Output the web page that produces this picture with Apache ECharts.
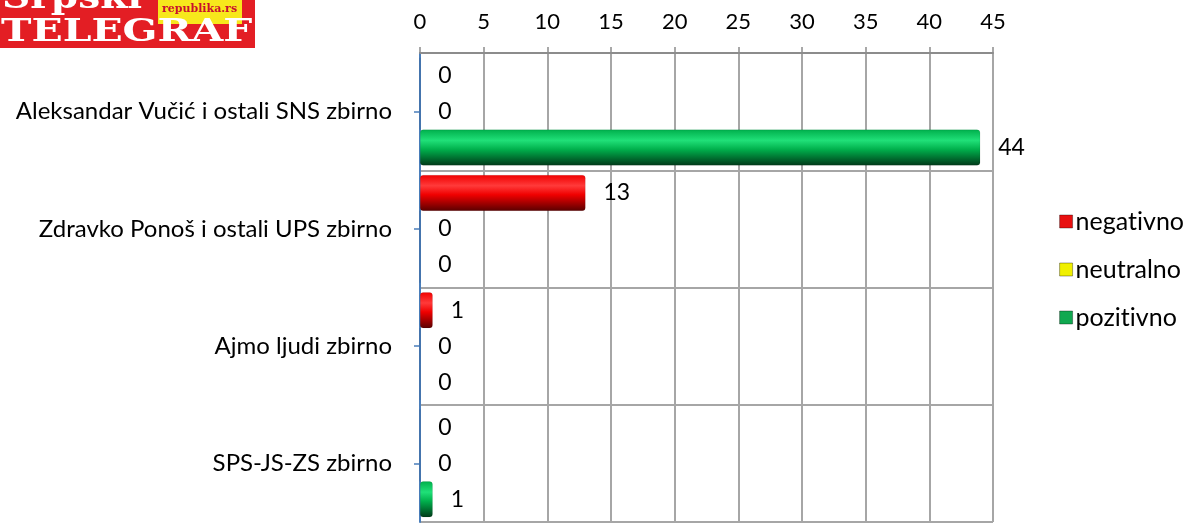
<!DOCTYPE html>
<html>
<head>
<meta charset="utf-8">
<script src="https://cdn.jsdelivr.net/npm/echarts@6/dist/echarts.min.js"></script>
<style>
  html, body { margin: 0; padding: 0; background: #fff; }
  #chart { width: 1193px; height: 523px; }
</style>
</head>
<body>
<div id="chart"></div>
<script>
// kategorije i vrijednosti
const categories = [
  'Aleksandar Vučić i ostali SNS zbirno',
  'Zdravko Ponoš i ostali UPS zbirno',
  'Ajmo ljudi zbirno',
  'SPS-JS-ZS zbirno'
]
const negativno = [0, 13, 1, 0]
const neutralno = [0, 0, 0, 0]
const pozitivno = [44, 0, 0, 1]
const xTicks = [0, 5, 10, 15, 20, 25, 30, 35, 40, 45]

const font = 'Lato'

// cilindricni gradijent za stupce
function tube(light, mid, dark) {
  return {
    type: 'linear', x: 0, y: 0, x2: 0, y2: 1,
    colorStops: [
      { offset: 0, color: mid },
      { offset: 0.3, color: light },
      { offset: 0.55, color: mid },
      { offset: 1, color: dark }
    ]
  }
}

const seriesDefs = [
  { name: 'negativno', data: negativno, color: tube('#ff3a3a', '#f00000', '#5a0000'), flat: '#e81010' },
  { name: 'neutralno', data: neutralno, color: tube('#ffff80', '#f0f000', '#807000'), flat: '#f0f000' },
  { name: 'pozitivno', data: pozitivno, color: tube('#20e078', '#00b04c', '#003818'), flat: '#10a850' }
]

const chart = echarts.init(document.getElementById('chart'))

chart.setOption({
  animation: false,
  textStyle: { fontFamily: font },
  grid: { left: 420, right: 200, top: 53, bottom: 1, containLabel: false },
  legend: {
    orient: 'vertical',
    right: 4,
    top: 204,
    itemWidth: 13,
    itemHeight: 13,
    itemGap: 23,
    icon: 'rect',
    // bez ligature "ti" u Lato fontu
    formatter: name => name.replace('ti', 't\u200Ci'),
    textStyle: { fontFamily: font, fontSize: 25, color: '#000', padding: [0, 0, 0, -2] },
    data: seriesDefs.map(s => ({ name: s.name, itemStyle: { color: s.flat, borderColor: 'rgba(0,0,0,0.35)', borderWidth: 1 } }))
  },
  xAxis: {
    type: 'value',
    position: 'top',
    min: 0,
    max: 45,
    interval: 5,
    axisLine: { show: true, lineStyle: { color: '#8c8c8c', width: 2 } },
    axisTick: { show: true, length: 6, lineStyle: { color: '#8c8c8c', width: 1.5 } },
    axisLabel: {
      margin: 20,
      fontSize: 22,
      color: '#000',
      fontFamily: font,
      formatter: v => xTicks.includes(v) ? String(v) : ''
    },
    splitLine: { show: true, lineStyle: { color: '#a6a6a6', width: 2 } }
  },
  yAxis: {
    type: 'category',
    inverse: true,
    data: categories,
    axisLine: { show: true, lineStyle: { color: '#4a7ebb', width: 2 } },
    axisTick: { show: true, alignWithLabel: true, length: 6, lineStyle: { color: '#4a7ebb', width: 1.5 } },
    axisLabel: { margin: 28, fontSize: 24, color: '#000', fontFamily: font },
    splitLine: { show: true, lineStyle: { color: '#a6a6a6', width: 2 } }
  },
  series: seriesDefs.map(s => ({
    name: s.name,
    type: 'bar',
    data: s.data,
    barGap: '0%',
    barCategoryGap: '8%',
    itemStyle: { color: s.color, borderRadius: 3, borderColor: 'rgba(0,0,0,0.15)', borderWidth: 0.5 },
    label: {
      show: true,
      position: 'right',
      distance: 18,
      color: '#000',
      fontSize: 23,
      fontFamily: font
    }
  })),
  graphic: [
    // logo gore lijevo
    { type: 'rect', shape: { x: 0, y: 0, width: 255, height: 48 }, style: { fill: '#e31e24' }, z: 100 },
    {
      type: 'text', x: 2, y: -18, scaleX: 1.15, z: 101,
      style: { text: 'Srpski', fill: '#fff', font: 'bold 34px "DejaVu Serif"' }
    },
    { type: 'rect', shape: { x: 158, y: 0, width: 84, height: 24 }, style: { fill: '#f7e81c' }, z: 101 },
    {
      type: 'text', x: 162, y: 4, z: 102,
      style: { text: 'republika.rs', fill: '#c8102e', font: 'bold 11px "DejaVu Serif"' }
    },
    {
      type: 'text', x: 1, y: 17, scaleX: 1.32, z: 101,
      style: { text: 'TELEGRAF', fill: '#fff', font: 'bold 31px "DejaVu Serif"' }
    }
  ]
})
</script>
</body>
</html>
